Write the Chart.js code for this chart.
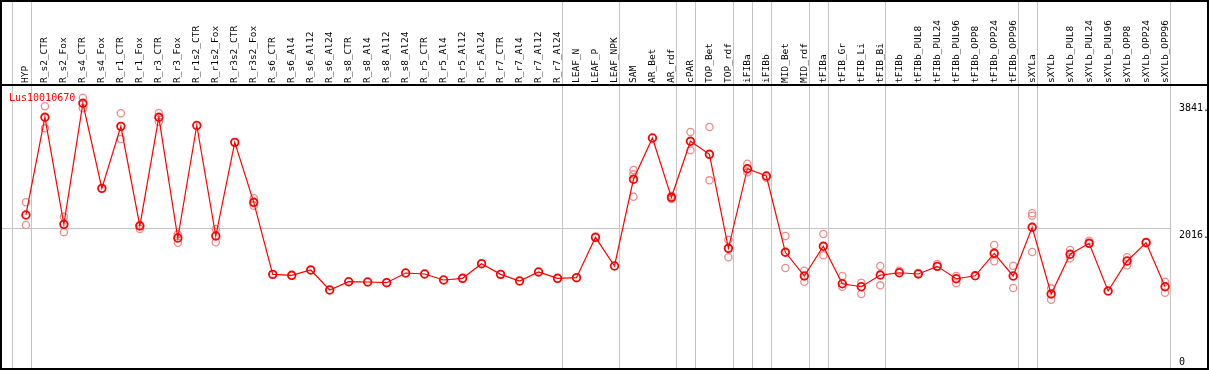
<!DOCTYPE html>
<html>
<head>
<meta charset="utf-8">
<script src="https://cdn.jsdelivr.net/npm/chart.js@4/dist/chart.umd.min.js"></script>
<style>
  html, body { margin: 0; padding: 0; background: #fff; }
  #wrap { width: 1209px; height: 370px; }
</style>
</head>
<body>
<div id="wrap"><canvas id="expr" width="1209" height="370"></canvas></div>
<script>
const geneName = 'Lus10010670';

const samples = [
  'HYP', 'R_s2_CTR', 'R_s2_Fox', 'R_s4_CTR', 'R_s4_Fox', 'R_r1_CTR', 'R_r1_Fox',
  'R_r3_CTR', 'R_r3_Fox', 'R_r1s2_CTR', 'R_r1s2_Fox', 'R_r3s2_CTR', 'R_r3s2_Fox',
  'R_s6_CTR', 'R_s6_Al4', 'R_s6_Al12', 'R_s6_Al24', 'R_s8_CTR', 'R_s8_Al4',
  'R_s8_Al12', 'R_s8_Al24', 'R_r5_CTR', 'R_r5_Al4', 'R_r5_Al12', 'R_r5_Al24',
  'R_r7_CTR', 'R_r7_Al4', 'R_r7_Al12', 'R_r7_Al24', 'LEAF_N', 'LEAF_P', 'LEAF_NPK',
  'SAM', 'AR_Bet', 'AR_rdf', 'cPAR', 'TOP_Bet', 'TOP_rdf', 'iFIBa', 'iFIBb',
  'MID_Bet', 'MID_rdf', 'tFIBa', 'tFIB_Gr', 'tFIB_Li', 'tFIB_Bi', 'tFIBb',
  'tFIBb_PUL8', 'tFIBb_PUL24', 'tFIBb_PUL96', 'tFIBb_OPP8', 'tFIBb_OPP24', 'tFIBb_OPP96',
  'sXYLa', 'sXYLb', 'sXYLb_PUL8', 'sXYLb_PUL24', 'sXYLb_PUL96', 'sXYLb_OPP8',
  'sXYLb_OPP24', 'sXYLb_OPP96'
];

// mean expression per sample
const meanValues = [
  2199, 3603, 2065, 3804, 2582, 3473, 2041,
  3603, 1868, 3485, 1897, 3243, 2381,
  1346, 1332, 1408, 1121, 1240, 1236,
  1226, 1365, 1351, 1265, 1289, 1499,
  1346, 1250, 1380, 1289, 1298, 1878, 1466,
  2712, 3305, 2453, 3258, 3071, 1720, 2864, 2759,
  1663, 1322, 1749, 1211, 1168, 1336, 1369,
  1351, 1461, 1283, 1325, 1648, 1322,
  2022, 1063, 1634, 1792, 1106, 1538,
  1801, 1168
];

// individual replicates (null = hidden behind the mean)
const repHigh = [
  2381, 3761, 2174, 3884, null, 3660, 2055,
  3664, 1921, null, 1997, null, 2439,
  null, null, null, null, null, null,
  null, null, null, null, null, null,
  null, null, null, null, null, null, null,
  2845, null, 2475, 3391, 3463, 1844, 2936, 2735,
  1897, 1398, 1926, 1322, 1226, 1466, 1398,
  1365, 1494, 1322, null, 1768, 1470,
  2223, 1145, 1696, 1829, null, 1591,
  1815, 1240
];
const repLow = [
  2055, 3444, 1950, 3732, null, 3291, 1997,
  3539, 1801, null, 1806, null, 2332,
  null, null, null, null, null, null,
  null, null, null, null, null, null,
  null, null, null, null, null, null, null,
  2462, null, 2430, 3128, 2697, 1591, 2812, null,
  1437, 1240, 1619, 1168, 1063, 1188, null,
  null, null, 1217, null, 1533, 1150,
  1667, 981, 1576, null, null, 1476,
  null, 1082
];
const repExtra = [
  null, null, null, null, null, null, null,
  null, null, null, null, null, null,
  null, null, null, null, null, null,
  null, null, null, null, null, null,
  null, null, null, null, null, null, null,
  2783, null, null, null, null, null, null, null,
  null, null, null, null, null, null, null,
  null, null, null, null, null, null,
  2189, null, null, null, null, null,
  null, null
];

const yTickLabels = [0, 2016, 3841];
const yGridValues = [2016];
// last sample index of each group (separator drawn after it)
const groupEnds = [-1, 0, 28, 31, 34, 35, 37, 38, 39, 41, 42, 45, 52, 53, 60];

const toPoints = arr => arr.map((v, i) => ({ x: i, y: v }));

const PLOT_BOTTOM = 368;
const SEP_OFFSET = 0.26;

const framePlugin = {
  id: 'frame',
  beforeDatasetsDraw(chart) {
    const ctx = chart.ctx;
    const xs = chart.scales.x;
    const ys = chart.scales.y;
    const area = chart.chartArea;
    ctx.save();

    // group separators run through the label band too
    ctx.strokeStyle = '#c4c4c4';
    ctx.lineWidth = 1;
    groupEnds.forEach(g => {
      const x = Math.round(xs.getPixelForValue(g + SEP_OFFSET)) + 0.5;
      ctx.beginPath();
      ctx.moveTo(x, 0);
      ctx.lineTo(x, PLOT_BOTTOM);
      ctx.stroke();
    });

    yGridValues.forEach(v => {
      const y = Math.round(ys.getPixelForValue(v)) + 0.5;
      ctx.beginPath();
      ctx.moveTo(area.left, y);
      ctx.lineTo(area.right, y);
      ctx.stroke();
    });

    // sample names, rotated
    ctx.fillStyle = '#000';
    ctx.font = '9.5px "DejaVu Sans Mono"';
    ctx.textAlign = 'left';
    ctx.textBaseline = 'middle';
    samples.forEach((name, i) => {
      const x = xs.getPixelForValue(i);
      ctx.save();
      ctx.translate(x, 83);
      ctx.rotate(-Math.PI / 2);
      ctx.fillText(name, 0, 0);
      ctx.restore();
    });

    // y labels on the right
    ctx.font = '10px "DejaVu Sans Mono"';
    ctx.textBaseline = 'alphabetic';
    yTickLabels.forEach(v => {
      const y = ys.getPixelForValue(v);
      const txt = v === 0 ? '0' : v + '.';
      ctx.fillText(txt, area.right + 9, v === 0 ? y - 3 : y + 10);
    });

    // gene name
    ctx.fillStyle = '#ff0000';
    ctx.fillText(geneName, 9, 101);
    ctx.restore();
  },
  afterDraw(chart) {
    const ctx = chart.ctx;
    ctx.save();
    ctx.strokeStyle = '#000';
    ctx.lineWidth = 2;
    ctx.strokeRect(1, 1, chart.width - 2, chart.height - 2);
    ctx.beginPath();
    ctx.moveTo(0, 85);
    ctx.lineTo(chart.width, 85);
    ctx.stroke();
    ctx.restore();
  }
};

const repStyle = {
  showLine: false,
  pointStyle: 'circle',
  pointRadius: 3.6,
  pointBorderWidth: 1.3,
  pointBorderColor: 'rgb(238,140,140)',
  pointBackgroundColor: 'rgba(0,0,0,0)',
  order: 2
};

new Chart(document.getElementById('expr'), {
  type: 'line',
  data: {
    datasets: [
      {
        label: geneName,
        data: toPoints(meanValues),
        borderColor: '#ff0000',
        borderWidth: 1.2,
        tension: 0,
        pointStyle: 'circle',
        pointRadius: 3.8,
        pointBorderWidth: 1.8,
        pointBorderColor: '#ff0000',
        pointBackgroundColor: 'rgba(0,0,0,0)',
        order: 1
      },
      { label: 'rep1', data: toPoints(repHigh), ...repStyle },
      { label: 'rep2', data: toPoints(repLow), ...repStyle },
      { label: 'rep3', data: toPoints(repExtra), ...repStyle }
    ]
  },
  options: {
    responsive: false,
    animation: false,
    devicePixelRatio: 1,
    layout: { autoPadding: false, padding: { left: 2, right: 39, top: 85, bottom: 2 } },
    plugins: {
      legend: { display: false },
      tooltip: { enabled: false }
    },
    scales: {
      x: { type: 'linear', min: -1.26, max: 60.26, display: false },
      y: { type: 'linear', min: 0, max: 4067, display: false }
    }
  },
  plugins: [framePlugin]
});
</script>
</body>
</html>
